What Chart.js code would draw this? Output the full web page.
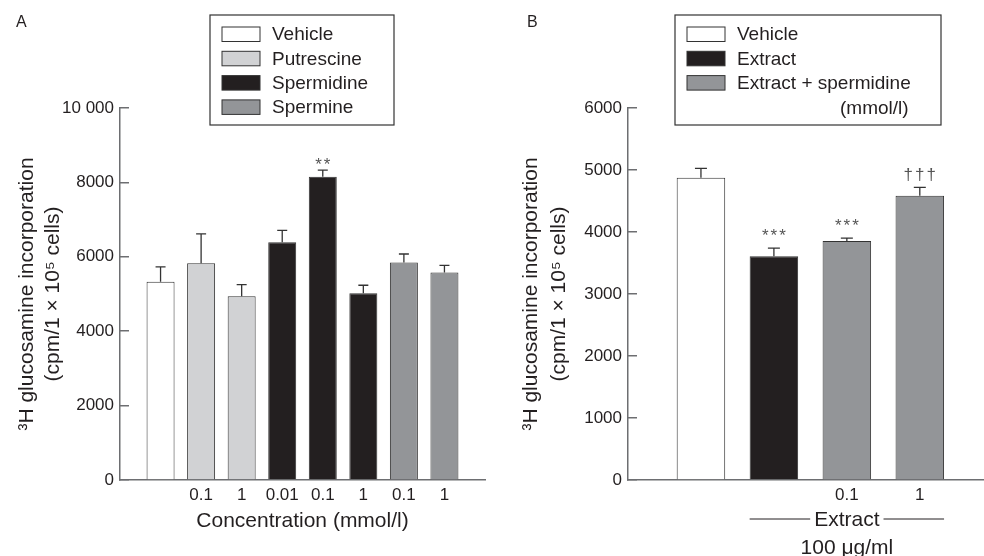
<!DOCTYPE html>
<html>
<head>
<title>Polyamines and glucosamine incorporation</title>
<script src="https://cdn.jsdelivr.net/npm/chart.js"></script>
<style>
  body { margin: 0; background: #fff; }
  #wrap { position: relative; width: 984px; height: 556px; }
  canvas { position: absolute; top: 0; }
</style>
</head>
<body>
<div id="wrap">
  <canvas id="chartA" width="490" height="556" style="left:0"></canvas>
  <canvas id="chartB" width="494" height="556" style="left:490px"></canvas>
</div>
<script>
// ---- panel A : polyamines alone ----
const groupsA = ['Vehicle', 'Putrescine', 'Putrescine', 'Spermidine', 'Spermidine', 'Spermidine', 'Spermine', 'Spermine'];
const concA = ['', '0.1', '1', '0.01', '0.1', '1', '0.1', '1'];
const meansA = [5330, 5825, 4940, 6390, 8150, 5020, 5850, 5580];
const semA = [400, 790, 310, 320, 180, 215, 225, 190];
const marksA = ['', '', '', '', '**', '', '', ''];
const legendA = ['Vehicle', 'Putrescine', 'Spermidine', 'Spermine'];
const yTicksA = [0, 2000, 4000, 6000, 8000, 10000];

// ---- panel B : extract + spermidine ----
const groupsB = ['Vehicle', 'Extract', 'Extract + spermidine', 'Extract + spermidine'];
const concB = ['', '', '0.1', '1'];
const meansB = [4875, 3610, 3855, 4585];
const semB = [150, 130, 45, 135];
const marksB = ['', '***', '***', '†††'];
const legendB = ['Vehicle', 'Extract', 'Extract + spermidine'];
const yTicksB = [0, 1000, 2000, 3000, 4000, 5000, 6000];

const yTitle = ['\u00B3H glucosamine incorporation', '(cpm/1 \u00D7 10\u2075 cells)'];

// styles
const FONT = "'Liberation Sans', Arial, Helvetica, sans-serif";
const INK = '#231f20';
const AXIS = '#6d6e71';
const EDGE = '#333333';
const fills = {
  'Vehicle': '#ffffff',
  'Putrescine': '#d1d2d4',
  'Spermidine': '#231f20',
  'Spermine': '#939598',
  'Extract': '#231f20',
  'Extract + spermidine': '#939598'
};

Chart.defaults.font.family = FONT;
Chart.defaults.color = INK;

function fmtTick(v) {
  return v >= 10000 ? String(v).replace(/\B(?=(\d{3})+$)/g, ' ') : String(v);
}

// error bars + significance marks drawn from the bar elements
const errorBars = {
  id: 'errorBars',
  afterDatasetsDraw(chart, args, opts) {
    const ctx = chart.ctx;
    const y = chart.scales.y;
    const ds = chart.data.datasets[0];
    const meta = chart.getDatasetMeta(0);
    ctx.save();
    ctx.strokeStyle = EDGE;
    ctx.lineWidth = 1.3;
    meta.data.forEach((bar, i) => {
      const top = y.getPixelForValue(ds.means[i] + ds.sem[i]);
      ctx.beginPath();
      ctx.moveTo(bar.x, bar.y);
      ctx.lineTo(bar.x, top);
      ctx.moveTo(bar.x - opts.cap, top);
      ctx.lineTo(bar.x + opts.cap, top);
      ctx.stroke();
      if (ds.marks[i]) {
        ctx.fillStyle = '#555';
        ctx.font = '17px ' + FONT;
        ctx.letterSpacing = '2px';
        ctx.textAlign = 'center';
        ctx.textBaseline = 'alphabetic';
        ctx.fillText(ds.marks[i], bar.x + 1, top - opts.gap);
      }
    });
    ctx.restore();
  }
};

// boxed legend + panel letter
const boxLegend = {
  id: 'boxLegend',
  afterDraw(chart, args, opts) {
    const ctx = chart.ctx;
    ctx.save();
    ctx.font = '16px ' + FONT;
    ctx.fillStyle = INK;
    ctx.textBaseline = 'middle';
    ctx.fillText(opts.panel, opts.panelX, 23);

    const b = opts.box;
    ctx.strokeStyle = EDGE;
    ctx.lineWidth = 1.2;
    ctx.strokeRect(b.x, b.y, b.w, b.h);
    ctx.font = '19px ' + FONT;
    opts.items.forEach((label, i) => {
      const cy = b.y + 19 + i * 24.3;
      ctx.fillStyle = fills[label];
      ctx.fillRect(b.x + 12, cy - 7, 38, 14.5);
      ctx.lineWidth = 1;
      ctx.strokeRect(b.x + 12, cy - 7, 38, 14.5);
      ctx.fillStyle = INK;
      ctx.fillText(label, b.x + 62, cy + 1);
    });
    if (opts.extra) {
      ctx.fillText(opts.extra, b.x + opts.extraX, b.y + 19 + opts.items.length * 24.3 + 2);
    }
    ctx.restore();
  }
};

// "Extract" bracket under panel B
const bracketFrom = 1, bracketTo = 3;
const bracketLabel = 'Extract', bracketDose = '100 \u03BCg/ml';
const bracket = {
  id: 'bracket',
  afterDraw(chart) {
    const ctx = chart.ctx;
    const meta = chart.getDatasetMeta(0);
    const a = meta.data[bracketFrom], z = meta.data[bracketTo];
    const x0 = a.x - a.width / 2, x1 = z.x + z.width / 2;
    const mid = chart.scales.x.getPixelForValue((bracketFrom + bracketTo) / 2);
    const yl = chart.chartArea.bottom + 39;
    ctx.save();
    ctx.font = '21px ' + FONT;
    ctx.fillStyle = INK;
    ctx.textAlign = 'center';
    ctx.textBaseline = 'middle';
    const w = ctx.measureText(bracketLabel).width;
    ctx.strokeStyle = INK;
    ctx.lineWidth = 1;
    ctx.beginPath();
    ctx.moveTo(x0, yl); ctx.lineTo(mid - w / 2 - 4, yl);
    ctx.moveTo(mid + w / 2 + 4, yl); ctx.lineTo(x1, yl);
    ctx.stroke();
    ctx.fillText(bracketLabel, mid, yl + 1);
    ctx.fillText(bracketDose, mid, yl + 29);
    ctx.restore();
  }
};

function makeChart(id, p) {
  return new Chart(document.getElementById(id), {
    type: 'bar',
    data: {
      datasets: [{
        data: p.means.map((v, i) => ({ x: i, y: v })),
        means: p.means,
        sem: p.sem,
        marks: p.marks,
        backgroundColor: p.groups.map(g => fills[g]),
        borderColor: EDGE,
        borderWidth: 1,
        categoryPercentage: 1,
        barPercentage: p.barPct
      }]
    },
    options: {
      responsive: false,
      animation: false,
      events: [],
      layout: { padding: { top: 108, right: p.padRight, left: 0, bottom: 0 } },
      plugins: {
        legend: { display: false },
        tooltip: { enabled: false },
        errorBars: { cap: p.cap, gap: p.gap },
        boxLegend: p.legend
      },
      scales: {
        x: {
          type: 'linear',
          min: -1,
          max: p.xMax,
          offset: false,
          grid: { display: false, drawTicks: false },
          border: { color: AXIS, width: 1.5 },
          afterBuildTicks: s => { s.ticks = p.conc.map((_, i) => ({ value: i })); },
          ticks: {
            autoSkip: false, maxRotation: 0, padding: 5,
            font: { size: 17 },
            callback: v => p.conc[v]
          },
          title: {
            display: !!p.xTitle,
            text: p.xTitle,
            font: { size: 21 },
            padding: { top: 0, bottom: 22 }
          },
          afterFit: s => { s.height = 76; }
        },
        y: {
          min: 0,
          max: p.yTicks[p.yTicks.length - 1],
          afterBuildTicks: s => { s.ticks = p.yTicks.map(v => ({ value: v })); },
          grid: { drawOnChartArea: false, tickLength: -9, color: AXIS, lineWidth: 1.5 },
          border: { color: AXIS, width: 1.5 },
          ticks: { padding: 15, font: { size: 17 }, callback: v => fmtTick(v) },
          title: {
            display: true,
            text: yTitle,
            font: { size: 21, lineHeight: p.titleLH },
            padding: { top: p.titlePad, bottom: 0 }
          },
          afterFit: s => { s.width = p.yWidth; }
        }
      }
    },
    plugins: p.extraPlugins
  });
}

makeChart('chartA', {
  groups: groupsA, conc: concA, means: meansA, sem: semA, marks: marksA, yTicks: yTicksA,
  barPct: 0.69, xMax: 8, padRight: 5, yWidth: 120, titlePad: 14, titleLH: 1.25,
  cap: 5, gap: 0, xTitle: 'Concentration (mmol/l)',
  legend: { panel: 'A', panelX: 16, box: { x: 210, y: 15, w: 184, h: 110 }, items: legendA },
  extraPlugins: [errorBars, boxLegend]
});

makeChart('chartB', {
  groups: groupsB, conc: concB, means: meansB, sem: semB, marks: marksB, yTicks: yTicksB,
  barPct: 0.665, xMax: 3.88, padRight: 0, yWidth: 138, titlePad: 27, titleLH: 1.35,
  cap: 6, gap: 7, xTitle: '',
  legend: { panel: 'B', panelX: 37, box: { x: 185, y: 15, w: 266, h: 110 }, items: legendB,
            extra: '(mmol/l)', extraX: 165 },
  extraPlugins: [errorBars, boxLegend, bracket]
});
</script>
</body>
</html>
